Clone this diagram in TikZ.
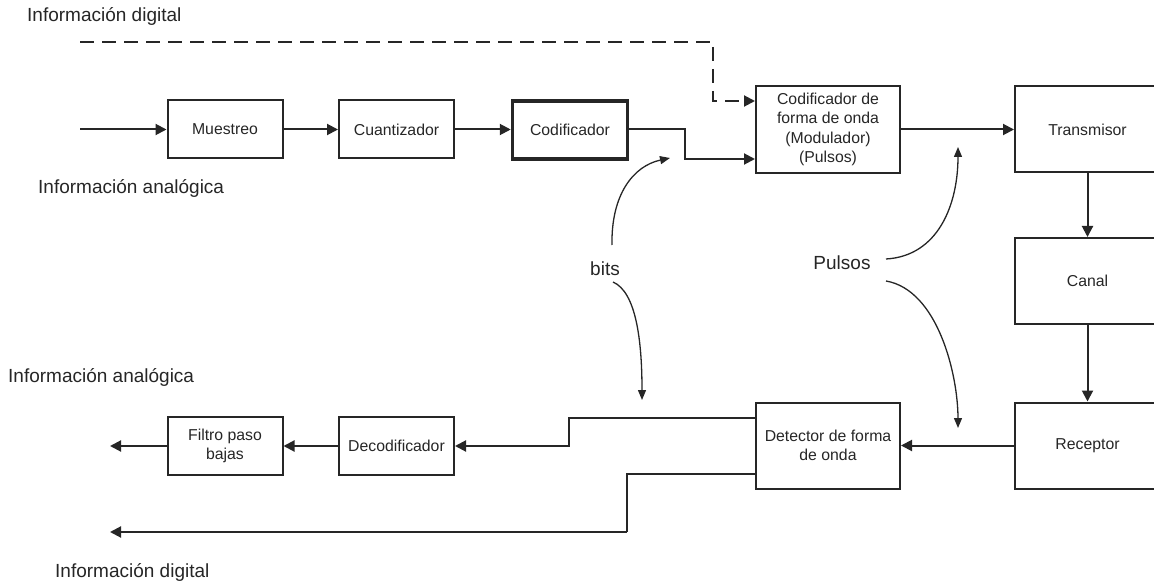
\documentclass[tikz,border=0pt]{standalone}
\usepackage{fontspec}
\setmainfont{Liberation Sans}
\usetikzlibrary{arrows.meta,calc}
\definecolor{ink}{HTML}{262626}
\begin{document}
\begin{tikzpicture}[x=1pt,y=-1pt,
  box/.style={draw=ink, line width=2pt, minimum width=115pt, minimum height=58pt,
    inner sep=2pt, align=center, text=ink, font=\fontsize{15.8}{19.3}\selectfont},
  bigbox/.style={box, minimum width=145pt, minimum height=86pt},
  arr/.style={draw=ink, line width=2pt, -{Triangle[length=11pt,width=11pt]}},
  plain/.style={draw=ink, line width=2pt},
  note/.style={draw=ink, line width=1.3pt, -{Triangle[length=10pt,width=8pt]}},
  lbl/.style={text=ink, inner sep=0pt, font=\fontsize{19}{22}\selectfont}]
\useasboundingbox (0,0) rectangle (1154,585);
\clip (0,0) rectangle (1154,585);

% transmitting chain
\node[box] (mues) at (225,129.5) {Muestreo};
\node[box] (cuan) at (396.5,129.5) {Cuantizador};
\node[box, line width=3.5pt] (codi) at (570,130) {Codificador};
\node[bigbox, minimum width=144pt, minimum height=87pt] (cfo) at (828,129.5)
  {Codificador de\\forma de onda\\(Modulador)\\(Pulsos)};
\node[bigbox] (trans) at (1087.5,129.5) {Transmisor};
\node[bigbox] (canal) at (1087.5,281) {Canal};
\node[bigbox] (recep) at (1087.5,445.5) {Receptor};

% receiving chain
\node[bigbox, minimum width=144pt] (det) at (828,445.5) {Detector de forma\\de onda};
\node[box] (deco) at (396.5,446) {Decodificador};
\node[box] (filt) at (225,446) {Filtro paso\\bajas};

% free ends
\coordinate (ain) at (80,129.5);
\coordinate (din) at (80,42);
\coordinate (aout) at (110,446);
\coordinate (dout) at (110,532);

% labels
\node[lbl, anchor=west] (l1) at (27,16) {Información digital};
\node[lbl, anchor=west] (l2) at (38,188) {Información analógica};
\node[lbl, anchor=west] (l3) at (8,377) {Información analógica};
\node[lbl, anchor=west] (l4) at (55,572) {Información digital};
\node[lbl] (bits) at (605,269) {bits};
\node[lbl] (puls) at (842,263) {Pulsos};

% forward path
\draw[arr] (ain) -- (mues);
\draw[arr] (mues) -- (cuan);
\draw[arr] (cuan) -- (codi.west |- cuan);
\draw[arr] (codi.east |- cuan) -- ++(56,0) |- ($(cfo.west)+(0,29.5)$);
\draw[arr, dash pattern=on 14pt off 8pt] (din) -- (713,42) |- ($(cfo.west)+(0,-28.5)$);
\draw[arr] (cfo) -- (trans);
\draw[arr] (trans) -- (canal);
\draw[arr] (canal) -- (recep);

% return path
\draw[arr] (recep) -- (det.east |- recep);
\draw[arr] ($(det.west)+(0,-27.5)$) -- (569,418) |- (deco.east);
\draw[plain] ($(det.west)+(0,28.5)$) -- (627,474) -- (627,532);
\draw[arr] (627,532) -- (dout);
\draw[arr] (deco) -- (filt);
\draw[arr] (filt) -- (aout);

% annotation arrows
\draw[note] (612,245) .. controls (611,195) and (633,166) .. (670,158);
\draw[note] (613,282) .. controls (636,292) and (642,340) .. (642,400);
\draw[note] (886,259) .. controls (938,256) and (958,205) .. (958,147);
\draw[note] (886,281) .. controls (938,290) and (958,375) .. (958,428);
\end{tikzpicture}
\end{document}
